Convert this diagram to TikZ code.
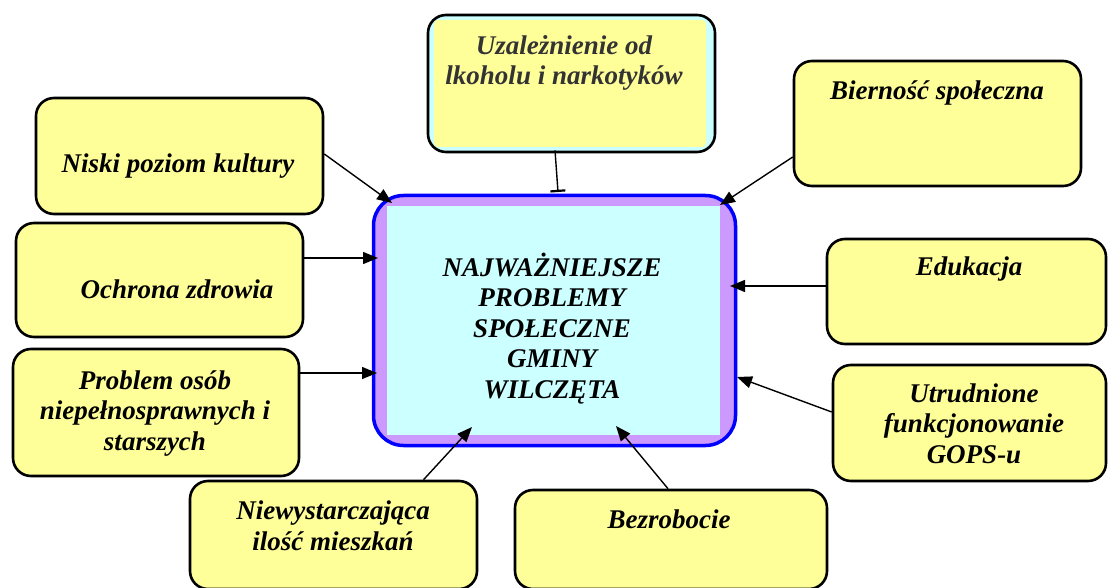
\documentclass[tikz,border=0pt]{standalone}
\usepackage{fontspec}
\setmainfont{Liberation Serif}
\usetikzlibrary{arrows.meta}
\definecolor{yel}{HTML}{FFFF99}
\definecolor{cyn}{HTML}{CCFFFF}
\definecolor{pur}{HTML}{CC99FF}
\definecolor{txtgray}{HTML}{333333}
\begin{document}
\begin{tikzpicture}[x=1pt,y=-1pt,
  ybox/.style={draw=black, line width=2.6pt, fill=yel, rounded corners=18pt, inner sep=0pt},
  lbl/.style={font=\fontsize{27}{30.5}\selectfont\bfseries\itshape, align=center, inner sep=0pt, anchor=base},
  arr/.style={-{Triangle[length=15pt,width=12pt]}, line width=1.4pt},
  barr/.style={-{Bar[width=15pt,line width=2.2pt]}, line width=1.4pt}]
\useasboundingbox (0,0) rectangle (1108,588);
% central box
\node[draw=blue, line width=3.5pt, fill=pur, rounded corners=30pt,
      minimum width=362pt, minimum height=250pt, inner sep=0pt] (center) at (554.5,320.5) {};
\fill[cyn] (387,206) rectangle (720,435);
\node[lbl] (ctext) at (552,398) {NAJWAŻNIEJSZE\\PROBLEMY\\SPOŁECZNE\\GMINY\\WILCZĘTA};
% top box (cyan frame)
\node[ybox, fill=cyn, minimum width=287pt, minimum height=137pt] (uzal) at (571.5,83.5) {};
\fill[yel, rounded corners=4pt] (434,20) rectangle (706,147);
\node[lbl, text=txtgray] (tuzal) at (564,85) {Uzależnienie od\\lkoholu i narkotyków};
% other boxes
\node[ybox, minimum width=287pt, minimum height=125pt] (bier) at (937.5,123.5) {};
\node[lbl] (tbier) at (937,100) {Bierność społeczna};
\node[ybox, minimum width=287pt, minimum height=116pt] (niski) at (179.5,156) {};
\node[lbl] (tniski) at (178,173) {Niski poziom kultury};
\node[ybox, minimum width=287pt, minimum height=114pt] (ochr) at (159.5,280) {};
\node[lbl] (tochr) at (177,298) {Ochrona zdrowia};
\node[ybox, minimum width=286pt, minimum height=127pt] (probl) at (156,412.5) {};
\node[lbl] (tprobl) at (155,450) {Problem osób\\niepełnosprawnych i\\starszych};
\node[ybox, minimum width=279pt, minimum height=105pt] (eduk) at (966.5,291.5) {};
\node[lbl] (teduk) at (969,275) {Edukacja};
\node[ybox, minimum width=273pt, minimum height=116pt] (utrud) at (969.5,423) {};
\node[lbl] (tutrud) at (974,463) {Utrudnione\\funkcjonowanie\\GOPS-u};
\node[ybox, minimum width=287pt, minimum height=108pt] (niew) at (333.5,535) {};
\node[lbl] (tniew) at (333,550) {Niewystarczająca\\ilość mieszkań};
\node[ybox, minimum width=312pt, minimum height=99pt] (bezr) at (671,539.5) {};
\node[lbl] (tbezr) at (669,528) {Bezrobocie};
% arrow tips on the central box
\coordinate (t-uzal) at (558,192);
\coordinate (t-bier) at (720,205);
\coordinate (t-niski) at (392,203);
\coordinate (t-ochr) at (378,258);
\coordinate (t-probl) at (377,373);
\coordinate (t-eduk) at (730,286);
\coordinate (t-utrud) at (737,377);
\coordinate (t-niew) at (472,427);
\coordinate (t-bezr) at (616,426);
% connectors
\draw[barr] ([xshift=-16.5pt,yshift=3pt]uzal.south) -- (t-uzal);
\draw[arr] ([yshift=-33.5pt]bier.west) -- (t-bier);
\draw[arr] ([yshift=2pt]niski.east) -- (t-niski);
\draw[arr] ([yshift=22pt]ochr.east) -- (t-ochr);
\draw[arr] ([yshift=39.5pt]probl.east) -- (t-probl);
\draw[arr] ([yshift=5.5pt]eduk.west) -- (t-eduk);
\draw[arr] ([yshift=11pt]utrud.west) -- (t-utrud);
\draw[arr] ([xshift=90pt]niew.north) -- (t-niew);
\draw[arr] ([xshift=-3pt]bezr.north) -- (t-bezr);
\end{tikzpicture}
\end{document}
